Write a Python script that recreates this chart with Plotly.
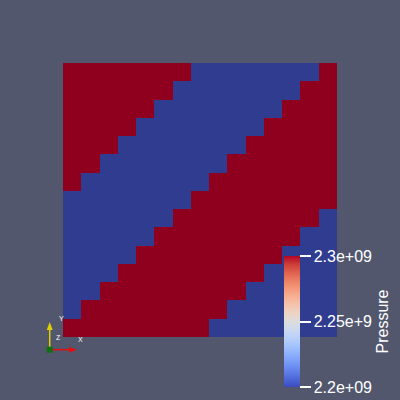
"""
Pressure field on a 15 x 15 cell grid, drawn like a ParaView render view
(flat coloured cells, cool-to-warm colour legend and a small axes triad).
"""
import plotly.graph_objects as go

# ---------------------------------------------------------------------------
# Data
# ---------------------------------------------------------------------------
# one string per row of cells, top row first; '1' = high pressure, '0' = low
cell_rows = [
    '111111100000001',
    '111111000000011',
    '111110000000111',
    '111100000001111',
    '111000000011111',
    '110000000111111',
    '100000001111111',
    '000000011111111',
    '000000111111110',
    '000001111111100',
    '000011111111000',
    '000111111110000',
    '001111111100000',
    '011111111000000',
    '111111110000000',
]
pressure_low = 2.2e9
pressure_high = 2.3e9

tick_vals = [2.2e9, 2.25e9, 2.3e9]
tick_text = ['2.2e+09', '2.25e+9', '2.3e+09']

pressure = [[pressure_high if c == '1' else pressure_low for c in row]
            for row in cell_rows]
cols = list(range(len(cell_rows[0])))
rows = list(range(len(cell_rows)))

# ---------------------------------------------------------------------------
# Style
# ---------------------------------------------------------------------------
BG = '#52576e'
FONT = 'Liberation Sans, Arial, sans-serif'
W = H = 400

# colours as they appear on the lit surface
shaded = [[0, '#2f3c8f'], [1, '#8e001e']]

# ParaView "Cool to Warm"
cool_warm_rgb = [
    (59, 76, 192), (77, 104, 215), (98, 130, 234), (119, 154, 247),
    (141, 176, 254), (163, 194, 255), (184, 208, 249), (204, 217, 238),
    (221, 221, 221), (236, 211, 197), (245, 196, 173), (247, 177, 148),
    (244, 154, 123), (236, 127, 99), (222, 96, 77), (203, 62, 56),
    (180, 4, 38),
]
n = len(cool_warm_rgb) - 1
cool_warm = [[i / n, 'rgb(%d,%d,%d)' % c] for i, c in enumerate(cool_warm_rgb)]


def px(x):
    return x / W


def py(y):
    return 1 - y / H


fig = go.Figure()

fig.add_trace(go.Heatmap(
    x=cols, y=rows, z=pressure,
    zmin=pressure_low, zmax=pressure_high,
    colorscale=shaded, showscale=False, hoverinfo='skip',
))

# colour legend (unshaded colour map)
fig.add_trace(go.Scatter(
    x=[None], y=[None], mode='markers', showlegend=False,
    marker=dict(
        color=[pressure_low], cmin=pressure_low, cmax=pressure_high,
        colorscale=cool_warm, showscale=True,
        colorbar=dict(
            x=px(284), xanchor='left', xpad=0,
            y=py(387), yanchor='bottom', ypad=0,
            thickness=16, lenmode='pixels', len=131,
            outlinewidth=0,
            tickmode='array', tickvals=tick_vals, ticktext=tick_text,
            ticks='outside', ticklen=11, tickwidth=1.5, tickcolor='white',
            tickfont=dict(family=FONT, size=16, color='white'),
            title=dict(text='Pressure', side='right',
                       font=dict(family=FONT, size=16, color='white')),
        ),
    ),
))

# ---------------------------------------------------------------------------
# Orientation axes triad (bottom left)
# ---------------------------------------------------------------------------
ox, oy = 49.7, 349.7
shapes = [
    dict(type='line', xref='paper', yref='paper',
         x0=px(ox), y0=py(oy), x1=px(ox), y1=py(329),
         line=dict(color='#e0d000', width=1.5)),
    dict(type='path', xref='paper', yref='paper',
         path=f'M {px(ox - 3)},{py(330)} L {px(ox)},{py(322)} '
              f'L {px(ox + 3)},{py(330)} Z',
         fillcolor='#e0d000', line=dict(width=0)),
    dict(type='line', xref='paper', yref='paper',
         x0=px(ox), y0=py(oy), x1=px(70), y1=py(oy),
         line=dict(color='#e01010', width=1.5)),
    dict(type='path', xref='paper', yref='paper',
         path=f'M {px(69)},{py(oy - 3)} L {px(77)},{py(oy)} '
              f'L {px(69)},{py(oy + 3)} Z',
         fillcolor='#e01010', line=dict(width=0)),
    dict(type='rect', xref='paper', yref='paper',
         x0=px(ox - 3), y0=py(oy + 3), x1=px(ox + 3), y1=py(oy - 3),
         fillcolor='#107010', line=dict(width=0)),
]
annotations = [
    dict(text=t, x=px(x), y=py(y), xref='paper', yref='paper',
         showarrow=False, font=dict(family=FONT, size=7, color='white'))
    for t, x, y in [('Y', 57, 324), ('X', 76, 345), ('Z', 54, 343)]
]

fig.update_layout(
    width=W, height=H,
    margin=dict(l=0, r=0, t=0, b=0),
    paper_bgcolor=BG, plot_bgcolor=BG,
    xaxis=dict(domain=[px(63), px(337)], range=[-0.5, 14.5],
               visible=False, fixedrange=True),
    yaxis=dict(domain=[py(337), py(63)], range=[14.5, -0.5],
               visible=False, fixedrange=True),
    shapes=shapes, annotations=annotations,
    showlegend=False,
)

# the page body has a default 8px margin; remove it so the view fills
# the window like the render view does
fig.write_html('out.html', config={'displayModeBar': False},
               post_script="document.body.style.margin='0';"
                           f"document.body.style.background='{BG}';")
